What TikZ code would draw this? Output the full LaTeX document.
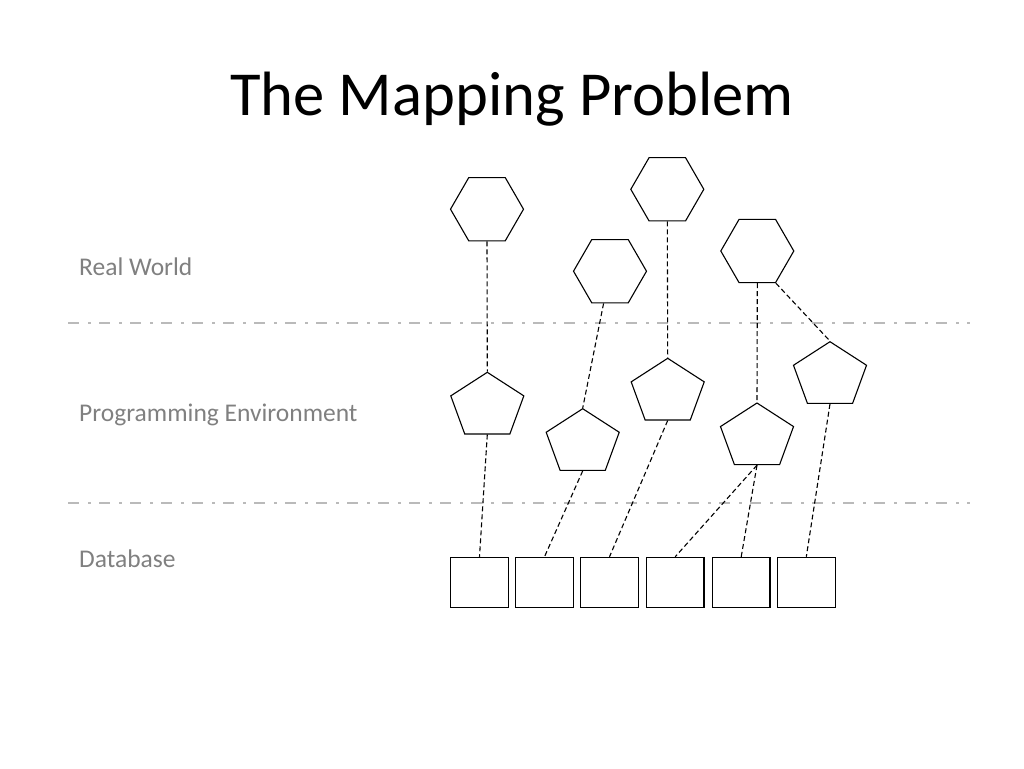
\documentclass[tikz,border=0pt]{standalone}
\usepackage{fontspec}
\setmainfont{Carlito}
\usetikzlibrary{shapes.geometric}
\begin{document}
\begin{tikzpicture}[x=1pt,y=-1pt,
 hexa/.style={draw=black, line width=1.1pt, regular polygon, regular polygon sides=6, minimum size=73pt, inner sep=0pt},
 penta/.style={draw=black, line width=1.1pt, regular polygon, regular polygon sides=5, minimum size=76.8pt, inner sep=0pt, yscale=0.888},
 box/.style={draw=black, line width=1.1pt, minimum width=57.6pt, minimum height=50pt, inner sep=0pt},
 link/.style={draw=black, line width=1.1pt, dash pattern=on 5pt off 3pt},
 sep/.style={draw=black!27, line width=2.9pt, dash pattern=on 11pt off 9pt on 2.5pt off 8.5pt},
 lbl/.style={font=\fontsize{25.5}{30}\selectfont, text=black!50, anchor=base west, inner sep=0pt},
]
\useasboundingbox[fill=white] (0,0) rectangle (1024,768);

% title
\node[anchor=base, inner sep=0pt, font=\fontsize{62.6}{75}\selectfont] (title) at (512,115) {The Mapping Problem};

% layer labels
\node[lbl] (real) at (79,275) {Real World};
\node[lbl] (prog) at (79,421) {Programming Environment};
\node[lbl] (db) at (79,567) {Database};

% separators
\coordinate (s1a) at (68,323);
\coordinate (s1b) at (970,323);
\coordinate (s2a) at (68,503);
\coordinate (s2b) at (970,503);
\draw[sep] (s1a) -- (s1b);
\draw[sep] (s2a) -- (s2b);

% real world objects
\node[hexa] (h1) at (487,209.2) {};
\node[hexa] (h2) at (610,271.2) {};
\node[hexa] (h3) at (667.3,189.3) {};
\node[hexa] (h4) at (757.3,251) {};

% programming environment objects
\node[penta] (p1) at (487.3,406.4) {};
\node[penta] (p2) at (582.7,442.8) {};
\node[penta] (p3) at (667.7,392.4) {};
\node[penta] (p4) at (757,437.1) {};
\node[penta] (p5) at (830,375.8) {};

% database records
\node[box] (b1) at (479.5,582.3) {};
\node[box] (b2) at (544.5,582.3) {};
\node[box] (b3) at (609.5,582.3) {};
\node[box] (b4) at (675.2,582.3) {};
\node[box] (b5) at (741.2,582.3) {};
\node[box] (b6) at (806.3,582.3) {};

% mappings
\draw[link] (h1.south) -- (p1.90);
\draw[link] (h2) -- (p2.90);
\draw[link] (h3.south) -- (p3.90);
\draw[link] (h4.south) -- (p4.90);
\draw[link] (h4.-60) -- (p5.90);

\draw[link] (p1.south) -- (b1.north);
\draw[link] (p2.south) -- (b2.north);
\draw[link] (p3.south) -- (b3.north);
\draw[link] (p4.south) -- (b4.north);
\draw[link] (p4.south) -- (b5.north);
\draw[link] (p5.south) -- (b6.north);
\end{tikzpicture}
\end{document}
